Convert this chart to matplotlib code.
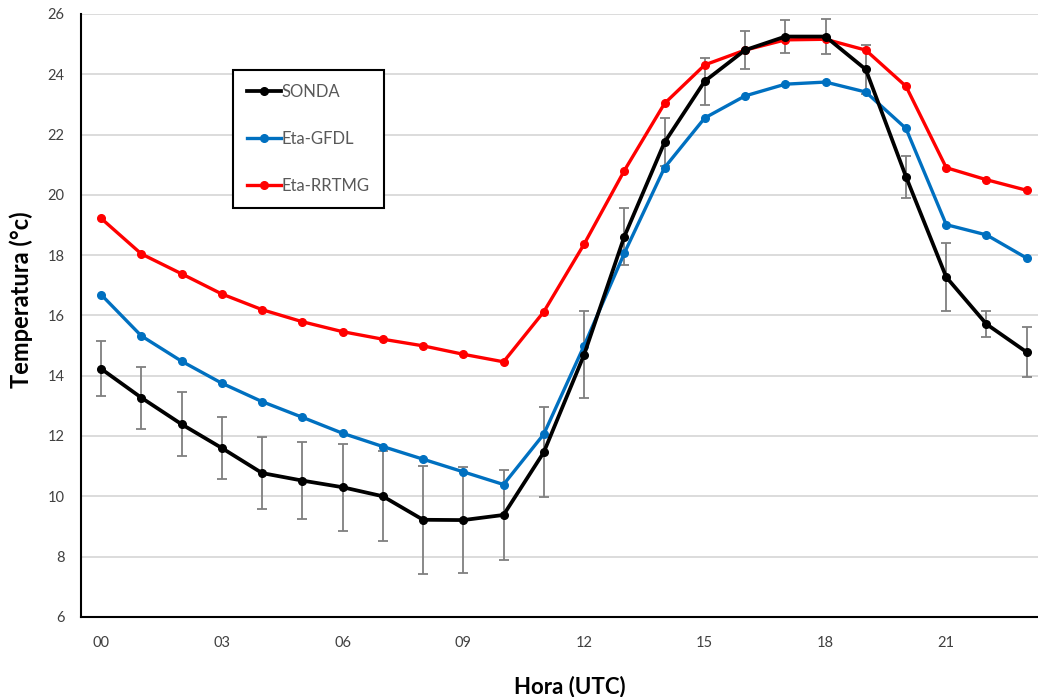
"""
Ciclo diurno da temperatura: SONDA x Eta-GFDL x Eta-RRTMG
"""
import numpy as np
import matplotlib
matplotlib.use('Agg')
import matplotlib.pyplot as plt

plt.rcParams['font.family'] = ['Lato', 'DejaVu Sans']

# horas (UTC)
horas = list(range(24))
rotulos_x = ['00', '03', '06', '09', '12', '15', '18', '21']

# temperatura observada (SONDA) e desvio padrão
sonda = [14.23, 13.27, 12.39, 11.60, 10.77, 10.52, 10.30, 10.00,
         9.22, 9.21, 9.38, 11.46, 14.69, 18.61, 21.74, 23.77,
         24.80, 25.25, 25.25, 24.16, 20.60, 17.27, 15.71, 14.78]
sonda_dp = [0.92, 1.03, 1.07, 1.04, 1.20, 1.29, 1.44, 1.50,
            1.80, 1.75, 1.48, 1.50, 1.44, 0.95, 0.80, 0.78,
            0.64, 0.55, 0.58, 0.80, 0.69, 1.12, 0.43, 0.83]

# simulações
eta_gfdl = [16.69, 15.32, 14.48, 13.75, 13.14, 12.62, 12.09, 11.65,
            11.23, 10.81, 10.39, 12.06, 14.99, 18.06, 20.90, 22.55,
            23.28, 23.67, 23.74, 23.41, 22.20, 19.01, 18.67, 17.90]
eta_rrtmg = [19.22, 18.04, 17.38, 16.71, 16.19, 15.79, 15.46, 15.21,
             14.99, 14.71, 14.46, 16.12, 18.36, 20.80, 23.03, 24.31,
             24.80, 25.14, 25.16, 24.80, 23.60, 20.90, 20.50, 20.15]

fig = plt.figure(figsize=(10.38, 6.97), dpi=100)
ax = fig.add_axes([0.078, 0.115, 0.922, 0.865])

ax.errorbar(horas, sonda, yerr=sonda_dp, fmt='none', ecolor='#7f7f7f',
            elinewidth=1.3, capsize=3.5, capthick=1.3, zorder=2)
ax.plot(horas, eta_gfdl, color='#0070C0', lw=2.4, marker='o', ms=5.5,
        label='Eta-GFDL', zorder=3)
ax.plot(horas, eta_rrtmg, color='#FF0000', lw=2.4, marker='o', ms=5.5,
        label='Eta-RRTMG', zorder=3)
ax.plot(horas, sonda, color='black', lw=2.7, marker='o', ms=5.5,
        label='SONDA', zorder=4)

ax.set_xlim(-0.5, 23.28)
ax.set_ylim(6, 26)
ax.set_xticks(range(0, 22, 3))
ax.set_xticklabels(rotulos_x)
ax.set_yticks(range(6, 27, 2))
ax.tick_params(length=0, labelsize=10.5, labelcolor='#404040')
ax.tick_params(axis='x', pad=14)
ax.tick_params(axis='y', pad=12)

ax.grid(axis='y', color='#d9d9d9', lw=1.3)
ax.set_axisbelow(True)
for lado in ['top', 'right']:
    ax.spines[lado].set_visible(False)
for lado in ['left', 'bottom']:
    ax.spines[lado].set_linewidth(1.5)
    ax.spines[lado].set_color('black')

ax.set_xlabel('Hora (UTC)', fontsize=16, fontweight='bold', labelpad=18)
ax.set_ylabel('Temperatura (°c)', fontsize=17, fontweight='bold')
ax.xaxis.label.set_x(0.511)
ax.yaxis.set_label_coords(-0.050, 0.526)

handles, labels = ax.get_legend_handles_labels()
ordem = [2, 0, 1]
leg = ax.legend([handles[i] for i in ordem], [labels[i] for i in ordem],
                loc='upper left', bbox_to_anchor=(0.159, 0.907),
                borderaxespad=0, fancybox=False, framealpha=1,
                edgecolor='black', fontsize=12, labelspacing=1.85,
                handlelength=2.0, handletextpad=0.05, borderpad=0.85)
leg.get_frame().set_linewidth(1.5)
for t in leg.get_texts():
    t.set_color('#595959')

fig.savefig('out.png', dpi=100)
